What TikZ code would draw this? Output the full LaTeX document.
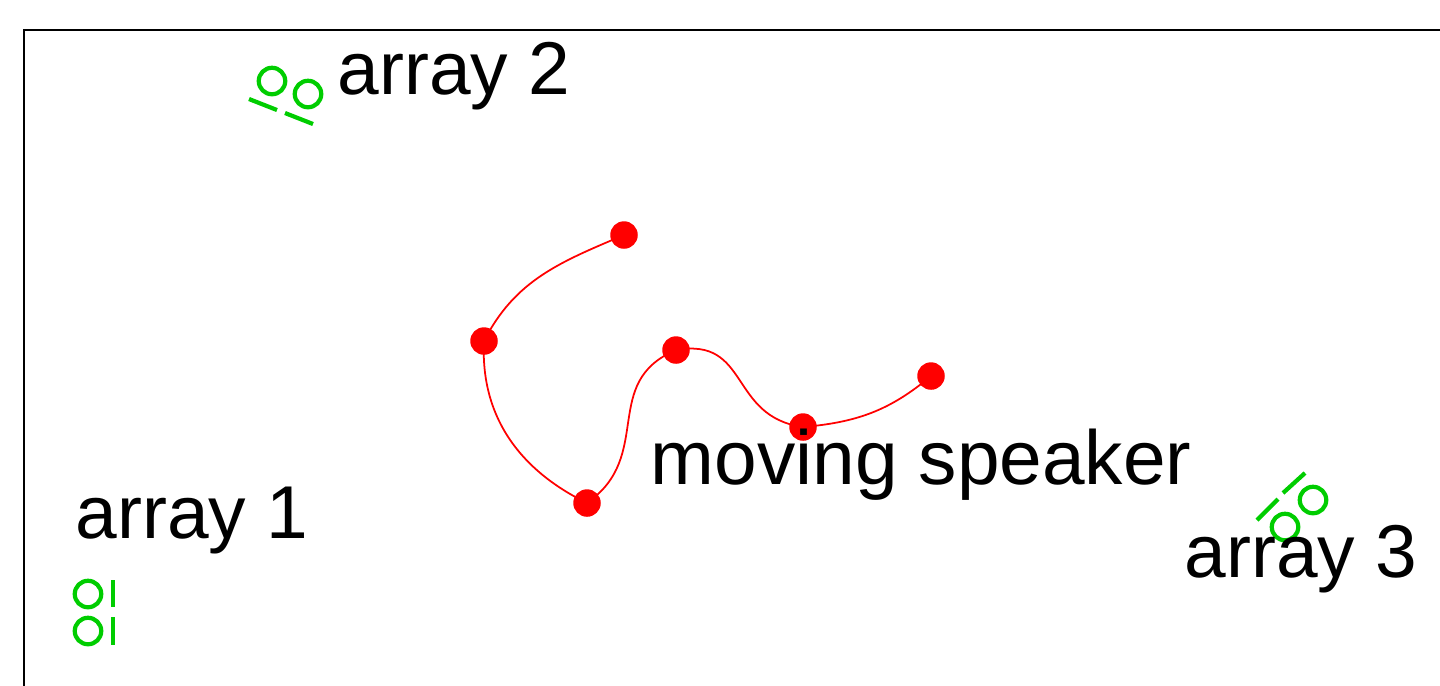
\documentclass[tikz,border=0pt]{standalone}
\usepackage{fontspec}
\setmainfont{Liberation Sans}
\usetikzlibrary{positioning}
\definecolor{micgreen}{HTML}{00CD00}

\begin{document}
\begin{tikzpicture}[
  x=0.1mm, y=0.1mm,
  mic/.style={circle, draw=micgreen, line width=1.2pt, minimum size=2.65mm, inner sep=0pt},
  bar/.style={draw=micgreen, line width=1.2pt},
  spk/.style={circle, fill=red, minimum size=2.75mm, inner sep=0pt},
  track/.style={draw=red, line width=0.5pt},
  lbl/.style={anchor=base west, inner sep=0pt, font=\fontsize{21.3}{25}\selectfont}
]
\clip (0,0) rectangle (1440,-685);
\draw[line width=0.7pt] (24,-30) rectangle (1500,-750);

% labels
\node[lbl] (l2) at (337,-94)  {array 2};
\node[lbl] (l1) at (75,-538)  {array 1};

% array 1
\node[mic] (a11) at (88,-594) {};
\node[mic] (a12) at (88,-631) {};
\draw[bar] (113,-580) -- (113,-607);
\draw[bar] (113,-617) -- (113,-645);

% array 2
\node[mic] (a21) at (272,-81) {};
\node[mic] (a22) at (308,-94) {};
\draw[bar] (249,-99) -- (277,-110);
\draw[bar] (285,-113) -- (313,-124);

% array 3
\node[mic] (a31) at (1313,-500) {};
\node[mic] (a32) at (1285,-527) {};
\draw[bar] (1283,-493) -- (1305,-473);
\draw[bar] (1257,-520) -- (1278,-499);
\node[lbl] (l3) at (1184,-577) {array 3};

% speaker path
\coordinate (p1) at (624,-235);
\coordinate (p2) at (484,-341);
\coordinate (p3) at (587,-503);
\coordinate (p4) at (676,-350);
\coordinate (p5) at (803,-427);
\coordinate (p6) at (931,-376);
\draw[track] (p1) to[out=203,in=63] (p2)
  to[out=267,in=154] (p3)
  to[out=35,in=203,looseness=1.2] (p4)
  to[out=10,in=172,looseness=1.3] (p5)
  to[out=5,in=220] (p6);
\foreach \i in {1,...,6}
  \node[spk] (s\i) at (p\i) {};
\node[lbl, font=\fontsize{21.8}{26}\selectfont] (lsp) at (650,-484) {moving speaker};
\end{tikzpicture}
\end{document}
